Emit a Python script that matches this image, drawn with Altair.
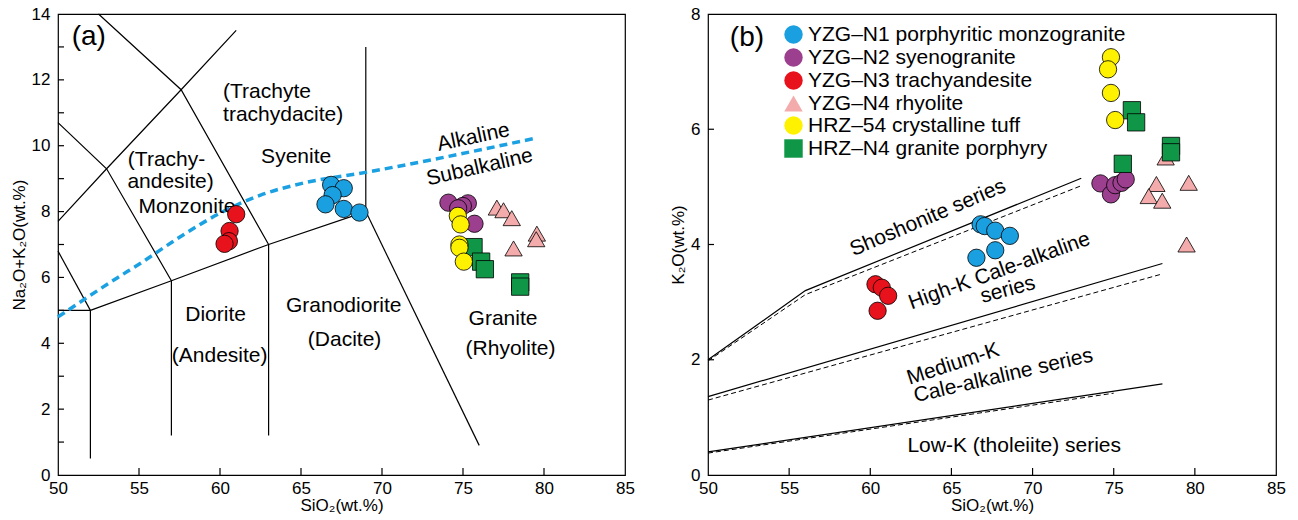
import altair as alt
import pandas as pd

FONT = "Liberation Sans"

# ---------------- series ----------------
SERIES = ["YZG–N1 porphyritic monzogranite", "YZG–N2 syenogranite", "YZG–N3 trachyandesite",
          "YZG–N4 rhyolite", "HRZ–54 crystalline tuff", "HRZ–N4 granite porphyry"]
COLORS = ["#1a9fe0", "#9c3f8e", "#e8121c", "#f4abab", "#fff200", "#0f9647"]
SHAPES = ["circle", "circle", "circle", "triangle-up", "circle", "square"]
DRAW_ORDER = [0, 2, 1, 3, 5, 4]

# Panel (a): SiO2 vs Na2O+K2O
A_X = [
    [66.86, 67.64, 66.95, 66.51, 67.64, 68.61],
    [74.10, 75.30, 74.99, 74.70, 75.71],
    [61.00, 60.59, 60.55, 60.28],
    [77.09, 77.50, 78.01, 79.56, 79.52, 78.12],
    [74.68, 74.85, 74.78, 74.78, 75.05],
    [75.65, 76.12, 76.35, 78.53, 78.53],
]
A_Y = [
    [8.81, 8.71, 8.50, 8.22, 8.08, 7.97],
    [8.27, 8.25, 8.17, 8.10, 7.63],
    [7.92, 7.41, 7.10, 7.02],
    [8.12, 8.04, 7.80, 7.33, 7.16, 6.88],
    [7.87, 7.61, 7.00, 6.90, 6.48],
    [6.92, 6.48, 6.25, 5.85, 5.72],
]
# Panel (b): SiO2 vs K2O
B_X = [
    [66.80, 67.05, 67.70, 68.60, 67.70, 66.54],
    [74.18, 74.83, 75.09, 75.48, 75.74],
    [60.32, 60.71, 61.10, 60.45],
    [78.20, 77.63, 77.16, 77.99, 79.62, 79.49],
    [74.83, 74.65, 74.83, 75.09],
    [76.12, 76.38, 78.53, 78.53, 75.56],
]
B_Y = [
    [4.35, 4.32, 4.24, 4.15, 3.90, 3.77],
    [5.06, 4.87, 5.03, 5.07, 5.13],
    [3.31, 3.25, 3.11, 2.85],
    [5.51, 5.05, 4.84, 4.76, 5.07, 4.00],
    [7.25, 7.04, 6.63, 6.16],
    [6.33, 6.12, 5.71, 5.60, 5.40],
]

# TAS field boundaries (panel a)
TAS_LINES_X = [
    [50, 52], [52, 52], [52, 57, 63, 69], [57, 57], [63, 63], [69, 69], [69, 76],
    [50, 52], [50, 53, 57.6, 61], [50, 53, 57], [52.5, 57.6, 63],
]
TAS_LINES_Y = [
    [5, 5], [0.5, 5], [5, 5.9, 7, 8], [1.2, 5.9], [1.2, 7], [8, 13], [8, 0.9],
    [6.8, 5], [7.7, 9.3, 11.7, 13.5], [10.7, 9.3, 5.9], [14, 11.7, 7],
]
ALK_X = [50, 53.7, 55, 57.5, 60, 62.5, 65, 69.1, 79.5]
ALK_Y = [4.8, 6.0, 6.4, 7.22, 7.95, 8.5, 8.85, 9.2, 10.23]

LABELS_A = ["(Trachyte", "trachydacite)", "(Trachy-", "andesite)", "Monzonite", "Syenite",
            "Alkaline", "Subalkaline", "Diorite", "(Andesite)", "Granodiorite", "(Dacite)",
            "Granite", "(Rhyolite)"]
LABX_A = [62.9, 63.9, 56.7, 56.95, 57.96, 64.7, 75.65, 76.03, 59.73, 59.98, 67.64, 67.69, 77.47, 77.93]
LABY_A = [11.62, 10.93, 9.56, 8.9, 8.13, 9.65, 10.25, 9.34, 4.85, 3.62, 5.14, 4.09, 4.75, 3.82]
LABANG_A = [0, 0, 0, 0, 0, 0, 348, 347, 0, 0, 0, 0, 0, 0]

# K2O series boundaries (panel b)
K_SOLID_X = [[50, 56, 73], [50, 78], [50, 78]]
K_SOLID_Y = [[2.0, 3.2, 5.15], [1.36, 3.67], [0.4, 1.58]]
K_DASH_X = [[50, 56, 73], [50, 78], [50, 75]]
K_DASH_Y = [[1.98, 3.13, 5.02], [1.3, 3.49], [0.38, 1.42]]

LABELS_B = ["Shoshonite series", "High-K Cale-alkaline", "series", "Medium-K",
            "Cale-alkaline series", "Low-K (tholeiite) series"]
LABX_B = [63.55, 67.96, 68.48, 65.11, 68.2, 68.87]
LABY_B = [4.46, 3.54, 3.21, 1.92, 1.72, 0.5]
LABANG_B = [337, 340, 345, 342, 347, 0]

X_TICKS = [55, 60, 65, 70, 75, 80]
A_YTICKS = list(range(1, 14))
B_YTICKS = [2, 4, 6]

W_A, W_B, H = 567, 568, 461


def points_df(xs, ys):
    rows = []
    for i in DRAW_ORDER:
        for x, y in zip(xs[i], ys[i]):
            rows.append({"series": SERIES[i], "x": x, "y": y})
    return pd.DataFrame(rows)


def lines_df(xs, ys):
    rows = []
    for k, (lx, ly) in enumerate(zip(xs, ys)):
        for j, (x, y) in enumerate(zip(lx, ly)):
            rows.append({"seg": k, "i": j, "x": x, "y": y})
    return pd.DataFrame(rows)


legend = alt.Legend(title=None, orient="none", legendX=725, legendY=10,
                    labelFont=FONT, labelFontSize=21, labelColor="black",
                    symbolSize=340, symbolStrokeColor="black", symbolStrokeWidth=0.8,
                    symbolOpacity=1, rowPadding=0, labelOffset=4, padding=0,
                    labelLimit=0)


def scales(ymax, ytitle, yvals):
    xsc = alt.Scale(domain=[50, 85], nice=False, zero=False)
    ysc = alt.Scale(domain=[0, ymax], nice=False, zero=False)
    xax = alt.Axis(values=X_TICKS + [50, 85], title="SiO₂(wt.%)", format="d")
    yax = alt.Axis(values=yvals, title=ytitle, format="d")
    X = lambda **k: alt.X("x:Q", scale=xsc, axis=xax, **k)
    Y = lambda **k: alt.Y("y:Q", scale=ysc, axis=yax, **k)
    return X, Y


def line_layer(xs, ys, color, width, dash, ymax, ytitle, yvals, interp="linear"):
    X, Y = scales(ymax, ytitle, yvals)
    kw = dict(color=color, strokeWidth=width, interpolate=interp)
    if dash:
        kw["strokeDash"] = dash
    return alt.Chart(lines_df(xs, ys)).mark_line(**kw).encode(
        x=X(), y=Y(), detail="seg:N", order="i:Q")


def panel(xs, ys, ymax, yvals, ytitle, width, lines, labels_df, tag, ytick_vals):
    X, Y = scales(ymax, ytitle, yvals)
    layers = list(lines)
    layers.append(
        alt.Chart(labels_df).mark_text(font=FONT, fontSize=21, color="black",
                                        align="center", baseline="middle").encode(
            x=X(), y=Y(), text="label:N", angle=alt.Angle("angle:Q", scale=None))
    )
    layers.append(
        alt.Chart(pd.DataFrame({"x": [tag[1]], "y": [tag[2]], "label": [tag[0]]}))
        .mark_text(font=FONT, fontSize=28, color="black", align="center", baseline="middle")
        .encode(x=X(), y=Y(), text="label:N")
    )
    layers.append(
        alt.Chart(pd.DataFrame({"x": X_TICKS})).mark_rule(color="black", strokeWidth=1.2)
        .encode(x=X(), y=alt.value(H), y2=alt.value(H - 7))
    )
    layers.append(
        alt.Chart(pd.DataFrame({"y": ytick_vals})).mark_rule(color="black", strokeWidth=1.2)
        .encode(y=Y(), x=alt.value(0), x2=alt.value(6))
    )
    pts = points_df(xs, ys)
    layers.append(
        alt.Chart(pts).mark_point(filled=True, opacity=1, size=300, stroke="black",
                                   strokeWidth=0.8).encode(
            x=X(), y=Y(),
            color=alt.Color("series:N", scale=alt.Scale(domain=SERIES, range=COLORS), legend=legend),
            shape=alt.Shape("series:N", scale=alt.Scale(domain=SERIES, range=SHAPES), legend=legend),
        )
    )
    return alt.layer(*layers).properties(width=width, height=H)


A_YT = "Na₂O+K₂O(wt.%)"
B_YT = "K₂O(wt.%)"
A_YV = [0, 2, 4, 6, 8, 10, 12, 14]
B_YV = [0, 2, 4, 6, 8]

lines_a = [
    line_layer(TAS_LINES_X, TAS_LINES_Y, "black", 1.2, None, 14, A_YT, A_YV),
    line_layer([ALK_X], [ALK_Y], "#1ba1e2", 3.5, [8, 5], 14, A_YT, A_YV, "monotone"),
]
lines_b = [
    line_layer(K_SOLID_X, K_SOLID_Y, "black", 1.2, None, 8, B_YT, B_YV),
    line_layer(K_DASH_X, K_DASH_Y, "black", 1.0, [5, 3], 8, B_YT, B_YV),
]

lab_a = pd.DataFrame({"label": LABELS_A, "x": LABX_A, "y": LABY_A, "angle": LABANG_A})
lab_b = pd.DataFrame({"label": LABELS_B, "x": LABX_B, "y": LABY_B, "angle": LABANG_B})

pa = panel(A_X, A_Y, 14, A_YV, A_YT, W_A, lines_a, lab_a, ("(a)", 51.9, 13.3), A_YTICKS)
pb = panel(B_X, B_Y, 8, B_YV, B_YT, W_B, lines_b, lab_b, ("(b)", 52.4, 7.59), B_YTICKS)

chart = alt.hconcat(pa, pb, spacing=32).properties(
    padding={"left": 9, "top": 4, "right": 5, "bottom": 2},
    background="white",
).configure_view(stroke="black", strokeWidth=1.2).configure_axis(
    grid=False, ticks=False, domain=False,
    labelFont=FONT, labelFontSize=17, labelColor="black",
    titleFont=FONT, titleFontSize=17, titleFontWeight="normal", titleColor="black",
    labelFlush=False,
).configure_axisX(labelPadding=5, titlePadding=1).configure_axisY(labelPadding=8, titlePadding=3)

chart.save("out.html", embed_options={"renderer": "svg", "actions": False})
